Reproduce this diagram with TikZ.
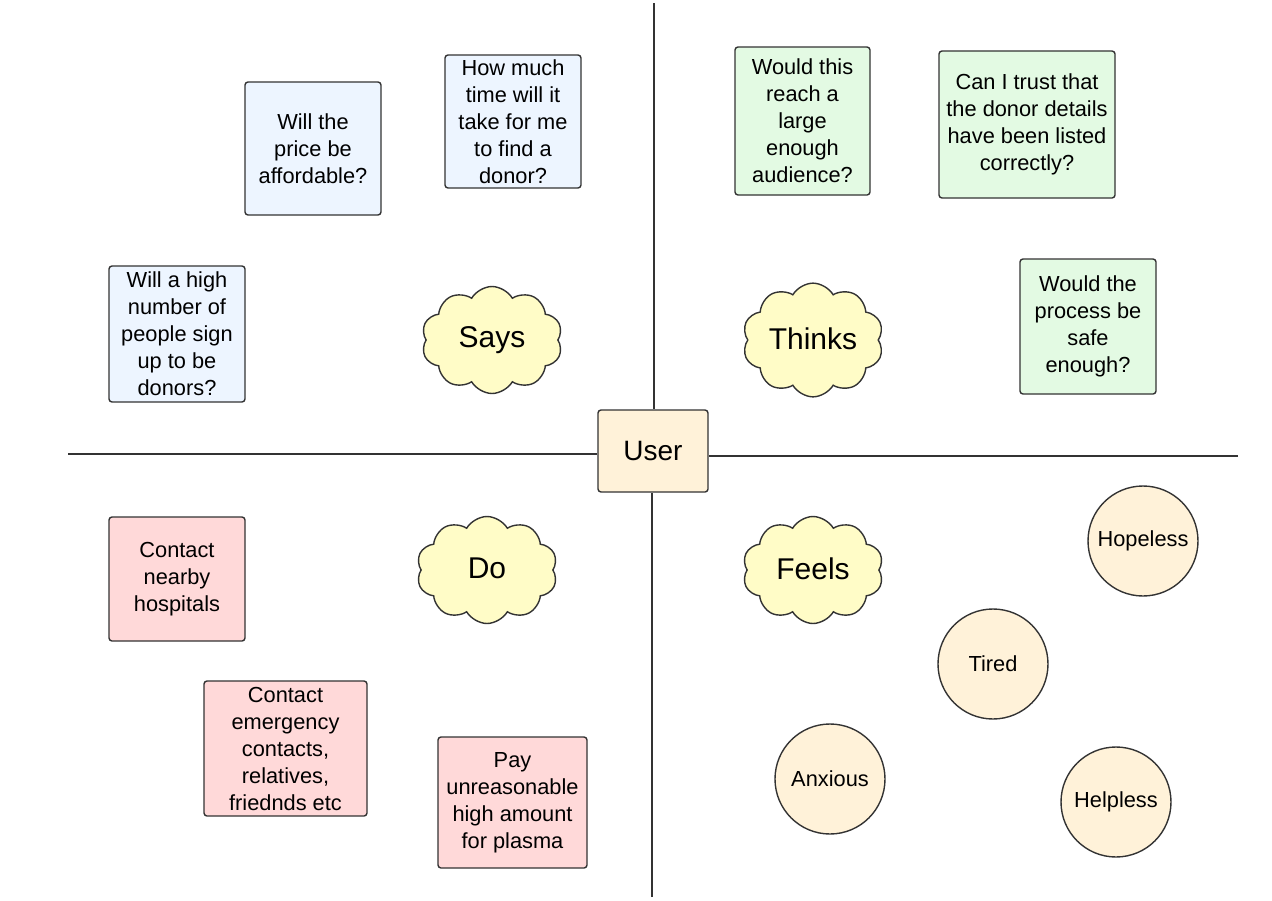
\documentclass[tikz,border=0pt]{standalone}
\usepackage{fontspec}
\setmainfont{Liberation Sans}
\usetikzlibrary{shapes.symbols}
\definecolor{strokec}{HTML}{333333}
\definecolor{bluefill}{HTML}{EDF5FF}
\definecolor{greenfill}{HTML}{E3FAE3}
\definecolor{redfill}{HTML}{FFD9D9}
\definecolor{userfill}{HTML}{FFF2D9}
\definecolor{cloudfill}{HTML}{FFFCC7}
\begin{document}
\begin{tikzpicture}[x=1pt,y=-1pt,
  box/.style={draw=strokec, line width=1.4pt, rounded corners=3pt, align=center,
    font=\fontsize{21.8}{27}\selectfont, inner sep=0pt},
  bluebox/.style={box, fill=bluefill},
  greenbox/.style={box, fill=greenfill},
  redbox/.style={box, fill=redfill},
  thought/.style={cloud, cloud puffs=10, cloud puff arc=120, aspect=1.3,
    draw=strokec, line width=1.4pt, fill=cloudfill, inner sep=0pt,
    minimum width=141pt, minimum height=107pt, font=\fontsize{30}{34}\selectfont},
  feeling/.style={circle, draw=strokec, line width=1.4pt, fill=userfill,
    minimum size=110pt, inner sep=0pt, font=\fontsize{21.8}{27}\selectfont},
  axis/.style={draw=strokec, line width=1.4pt}]
\useasboundingbox (0,0) rectangle (1272,900);

% center
\node[box, fill=userfill, minimum width=110pt, minimum height=82pt,
  font=\fontsize{28}{32}\selectfont] (user) at (653,451) {User};
\coordinate (top) at (654,3);
\coordinate (bottom) at (652,897);
\coordinate (left) at (68,454);
\coordinate (right) at (1238,456);
\draw[axis] (top) -- (top |- user.north);
\draw[axis] (bottom) -- (bottom |- user.south);
\draw[axis] (left) -- (left -| user.west);
\draw[axis] (right) -- (right -| user.east);

% Says
\node[bluebox, minimum width=136pt, minimum height=133pt] (s1) at (313,148.5)
  {Will the\\price be\\affordable?};
\node[bluebox, minimum width=136pt, minimum height=133pt] (s2) at (513,121.5)
  {How much\\time will it\\take for me\\to find a\\donor?};
\node[bluebox, minimum width=136pt, minimum height=136pt] (s3) at (177,334)
  {Will a high\\number of\\people sign\\up to be\\donors?};

% Thinks
\node[greenbox, minimum width=135pt, minimum height=148pt] (t1) at (802.5,121)
  {Would this\\reach a\\large\\enough\\audience?};
\node[greenbox, minimum width=176pt, minimum height=147pt] (t2) at (1027,124.5)
  {Can I trust that\\the donor details\\have been listed\\correctly?};
\node[greenbox, minimum width=136pt, minimum height=135pt] (t3) at (1088,326.5)
  {Would the\\process be\\safe\\enough?};

% Do
\node[redbox, minimum width=136pt, minimum height=124pt] (d1) at (177,579)
  {Contact\\nearby\\hospitals};
\node[redbox, minimum width=163pt, minimum height=135pt] (d2) at (285.5,748.5)
  {Contact\\emergency\\contacts,\\relatives,\\friednds etc};
\node[redbox, minimum width=149pt, minimum height=131pt] (d3) at (512.5,802.5)
  {Pay\\unreasonable\\high amount\\for plasma};

% clouds
\node[thought] (says) at (492,340) {\raisebox{3pt}{Says}};
\node[thought] (thinks) at (813,340) {\raisebox{3pt}{Thinks}};
\node[thought] (do) at (487,570) {\raisebox{3pt}{Do}};
\node[thought] (feels) at (813,570) {\raisebox{3pt}{Feels}};

% feelings
\node[feeling] (hopeless) at (1143,541) {Hopeless};
\node[feeling] (tired) at (993,664) {Tired};
\node[feeling] (anxious) at (830,779) {Anxious};
\node[feeling] (helpless) at (1116,802) {Helpless};
\end{tikzpicture}
\end{document}
